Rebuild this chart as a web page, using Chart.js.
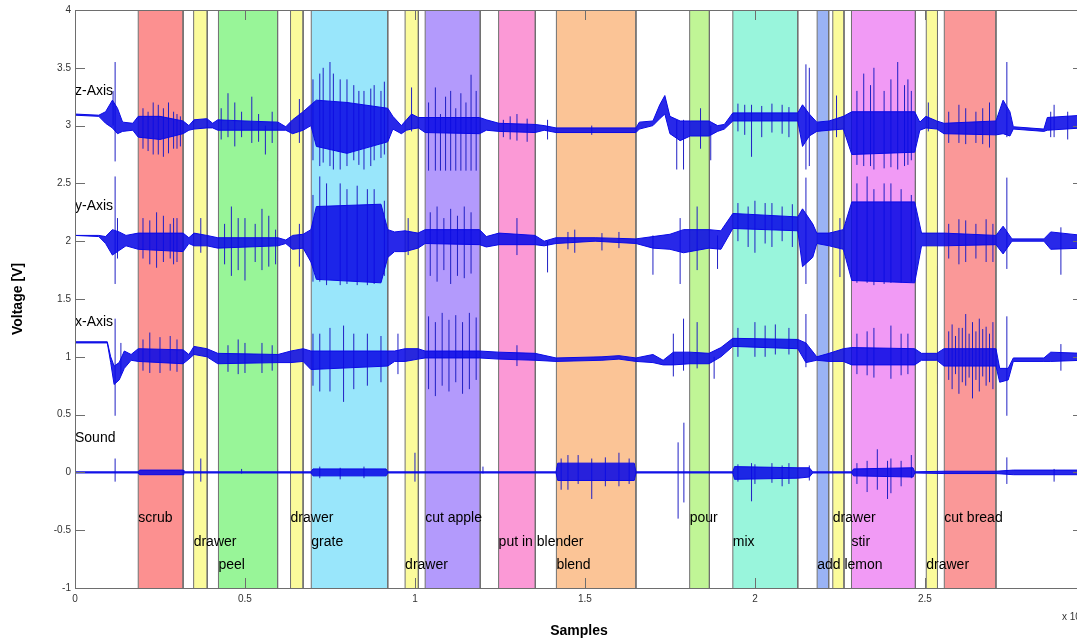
<!DOCTYPE html>
<html>
<head>
<meta charset="utf-8">
<script src="https://cdn.jsdelivr.net/npm/chart.js@4"></script>
<style>
html, body { margin: 0; padding: 0; background: #fff; overflow: hidden; }
</style>
</head>
<body>
<canvas id="chart" width="1085" height="642"></canvas>
<script>
// activity segments (x in samples x 10^5)
const bandStart = [0.186, 0.349, 0.422, 0.634, 0.695, 0.971, 1.030, 1.246, 1.416, 1.808, 1.935, 2.183, 2.229, 2.284, 2.504, 2.557];
const bandEnd   = [0.318, 0.389, 0.596, 0.671, 0.920, 1.010, 1.192, 1.354, 1.650, 1.866, 2.126, 2.217, 2.262, 2.472, 2.537, 2.709];
const bandColors = ['#fc9090', '#fbfb9b', '#98f598', '#fbfb9b', '#99e6fb', '#fbfb9b', '#b39afc', '#fb99d6',
                    '#fbc496', '#c0f596', '#99f5dc', '#9ab3f5', '#fbfb9b', '#f19af5', '#fbfb9b', '#fa9898'];
const labelText = ['scrub', 'drawer', 'peel', 'drawer', 'grate', 'drawer', 'cut apple', 'put in blender',
                   'blend', 'pour', 'mix', 'add lemon', 'drawer', 'stir', 'drawer', 'cut bread'];
const labelRow = [-0.4, -0.6, -0.8, -0.4, -0.6, -0.8, -0.4, -0.6, -0.8, -0.4, -0.6, -0.8, -0.4, -0.6, -0.8, -0.4];

const channelNames = ['z-Axis', 'y-Axis', 'x-Axis', 'Sound'];
const channelLabelY = [3.3, 2.3, 1.3, 0.3];

// z-axis: dense core envelope
const zX  = [0, 0.07, 0.09, 0.11, 0.125, 0.14, 0.17, 0.186, 0.25, 0.318,
             0.335, 0.35, 0.388, 0.405, 0.42, 0.5, 0.597, 0.62, 0.64, 0.671,
             0.694, 0.71, 0.8, 0.92, 0.935, 0.96, 0.975, 0.99, 1.01, 1.03,
             1.19, 1.21, 1.247, 1.353, 1.38, 1.415, 1.65, 1.66, 1.7, 1.72,
             1.735, 1.75, 1.78, 1.81, 1.865, 1.89, 1.91, 1.935, 2.126, 2.14,
             2.16, 2.182, 2.218, 2.26, 2.285, 2.47, 2.485, 2.503, 2.535, 2.556,
             2.709, 2.73, 2.75, 2.76, 2.85, 2.86, 2.965];
const zHi = [3.10, 3.09, 3.12, 3.22, 3.15, 3.03, 3.02, 3.08, 3.08, 3.04,
             3.00, 3.05, 3.06, 3.02, 3.05, 3.04, 3.03, 2.99, 3.05, 3.12,
             3.18, 3.22, 3.20, 3.15, 3.08, 3.00, 3.05, 3.10, 3.07, 3.07,
             3.07, 3.05, 3.02, 3.01, 3.00, 2.98, 2.98, 3.03, 3.04, 3.18,
             3.26, 3.08, 3.04, 3.04, 3.04, 3.00, 3.01, 3.11, 3.11, 3.18,
             3.10, 3.03, 3.04, 3.08, 3.12, 3.12, 3.03, 3.08, 3.04, 3.02,
             3.04, 3.22, 3.12, 2.99, 2.97, 3.07, 3.09];
const zLo = [3.09, 3.08, 3.02, 2.98, 2.93, 2.95, 2.96, 2.90, 2.88, 2.93,
             2.96, 2.97, 2.98, 2.98, 2.96, 2.96, 2.96, 2.96, 2.93, 2.96,
             3.00, 2.82, 2.76, 2.86, 2.97, 2.93, 2.96, 2.97, 2.98, 2.94,
             2.93, 2.96, 2.95, 2.94, 2.96, 2.94, 2.94, 2.97, 3.00, 3.06,
             3.10, 2.93, 2.87, 2.91, 2.91, 2.95, 2.97, 3.04, 3.04, 2.82,
             2.91, 2.95, 2.96, 2.97, 2.75, 2.77, 2.96, 2.98, 2.97, 2.93,
             2.92, 2.93, 2.91, 2.97, 2.95, 2.96, 2.98];
// z-axis: single spikes
const zSpikeX  = [0.112, 0.118, 0.23, 0.26, 0.30, 0.45, 0.52, 0.56, 0.66, 0.75,
                  0.78, 0.85, 0.88, 0.99, 1.04, 1.06, 1.075, 1.09, 1.105, 1.12,
                  1.135, 1.15, 1.165, 1.18, 1.3, 1.39, 1.52, 1.77, 1.79, 1.84,
                  1.87, 1.99, 2.15, 2.16, 2.24, 2.32, 2.35, 2.42, 2.45, 2.51,
                  2.6, 2.69, 2.741, 2.88,
                  0.2, 0.215, 0.245, 0.275, 0.29, 0.31, 0.43, 0.47, 0.49, 0.54,
                  0.58, 0.70, 0.72, 0.73, 0.76, 0.8, 0.82, 0.835, 0.87, 0.9,
                  0.91, 1.26, 1.28, 1.33, 1.95, 1.97, 2.02, 2.05, 2.08, 2.1,
                  2.3, 2.34, 2.38, 2.4, 2.44, 2.46, 2.57, 2.62, 2.65, 2.67,
                  2.87, 2.92, 2.95];
const zSpikeLo = [3.0, 2.69, 2.75, 2.73, 2.8, 2.9, 2.85, 2.75, 2.85, 2.65,
                  2.62, 2.62, 2.7, 2.95, 2.61, 2.61, 2.61, 2.61, 2.61, 2.61,
                  2.61, 2.61, 2.61, 2.61, 2.87, 2.88, 2.92, 2.62, 2.62, 2.8,
                  2.7, 2.73, 2.62, 2.65, 2.9, 2.65, 2.62, 2.62, 2.66, 2.95,
                  2.85, 2.81, 2.9, 2.9,
                  2.8, 2.78, 2.75, 2.76, 2.8, 2.82, 2.88, 2.82, 2.9, 2.86,
                  2.85, 2.7, 2.65, 2.68, 2.62, 2.65, 2.7, 2.66, 2.65, 2.72,
                  2.75, 2.9, 2.88, 2.86, 2.95, 2.92, 2.9, 2.94, 2.93, 2.9,
                  2.66, 2.65, 2.63, 2.64, 2.65, 2.7, 2.85, 2.84, 2.85, 2.84,
                  2.9, 2.88, 2.92];
const zSpikeHi = [3.3, 3.55, 3.2, 3.15, 3.1, 3.28, 3.25, 3.0, 3.23, 3.55,
                  3.4, 3.3, 3.35, 3.33, 3.2, 3.33, 3.1, 3.25, 3.3, 3.15,
                  3.28, 3.2, 3.44, 3.3, 3.1, 3.05, 3.0, 3.05, 3.05, 3.15,
                  3.0, 3.18, 3.53, 3.5, 3.26, 3.45, 3.5, 3.55, 3.4, 3.2,
                  3.18, 3.2, 3.55, 3.18,
                  3.15, 3.12, 3.18, 3.2, 3.12, 3.08, 3.15, 3.2, 3.12, 3.1,
                  3.12, 3.4, 3.45, 3.5, 3.45, 3.4, 3.35, 3.3, 3.32, 3.3,
                  3.38, 3.05, 3.08, 3.06, 3.19, 3.18, 3.17, 3.19, 3.18, 3.16,
                  3.3, 3.35, 3.3, 3.4, 3.35, 3.3, 3.12, 3.15, 3.12, 3.15,
                  3.12, 3.12, 3.15];

// y-axis
const yX  = [0, 0.07, 0.09, 0.11, 0.13, 0.15, 0.186, 0.318, 0.335, 0.35,
             0.388, 0.42, 0.597, 0.62, 0.64, 0.671, 0.694, 0.71, 0.9, 0.92,
             0.94, 0.971, 1.009, 1.03, 1.19, 1.21, 1.247, 1.353, 1.38, 1.415,
             1.53, 1.65, 1.7, 1.75, 1.79, 1.865, 1.9, 1.935, 2.126, 2.14,
             2.17, 2.182, 2.218, 2.26, 2.285, 2.47, 2.49, 2.556, 2.709, 2.73,
             2.756, 2.85, 2.87, 2.965];
const yHi = [2.05, 2.05, 2.04, 2.10, 2.08, 2.05, 2.07, 2.07, 2.03, 2.07,
             2.05, 2.03, 2.03, 2.01, 2.05, 2.06, 2.10, 2.30, 2.32, 2.10,
             2.08, 2.09, 2.07, 2.10, 2.10, 2.04, 2.07, 2.05, 2.00, 2.03,
             2.03, 2.02, 2.04, 2.06, 2.10, 2.10, 2.09, 2.24, 2.21, 2.28,
             2.15, 2.07, 2.07, 2.10, 2.34, 2.34, 2.07, 2.07, 2.05, 2.13,
             2.02, 2.02, 2.08, 2.05];
const yLo = [2.05, 2.04, 1.98, 1.88, 1.92, 1.96, 1.93, 1.91, 1.98, 1.96,
             1.96, 1.94, 1.96, 1.98, 1.93, 1.94, 1.82, 1.67, 1.64, 1.86,
             1.91, 1.91, 1.94, 1.98, 1.97, 1.95, 1.97, 1.97, 1.96, 1.98,
             2.00, 1.98, 1.94, 1.93, 1.90, 1.94, 1.93, 2.11, 2.09, 1.78,
             1.86, 1.98, 1.96, 1.93, 1.66, 1.64, 1.96, 1.96, 1.97, 1.89,
             2.00, 2.00, 1.93, 1.94];
const ySpikeX  = [0.118, 0.125, 0.24, 0.29, 0.37, 0.46, 0.5, 0.55, 0.66, 0.72,
                  0.78, 0.86, 0.98, 1.045, 1.065, 1.085, 1.105, 1.125, 1.145, 1.165,
                  1.3, 1.39, 1.47, 1.7, 1.78, 1.83, 1.89, 2.0, 2.05, 2.15,
                  2.25, 2.33, 2.4, 2.6, 2.68, 2.741, 2.9,
                  0.2, 0.22, 0.26, 0.28, 0.3, 0.44, 0.48, 0.53, 0.57, 0.59,
                  0.7, 0.74, 0.8, 0.83, 0.88, 0.91, 1.95, 1.98, 2.03, 2.08,
                  2.11, 2.3, 2.35, 2.38, 2.43, 2.46, 2.57, 2.62, 2.65, 2.7,
                  1.45, 1.55, 1.6];
const ySpikeLo = [1.63, 1.85, 1.77, 1.8, 1.9, 1.7, 1.66, 1.75, 1.78, 1.65,
                  1.62, 1.62, 1.88, 1.7, 1.65, 1.75, 1.63, 1.7, 1.68, 1.72,
                  1.88, 1.73, 1.9, 1.71, 1.63, 1.75, 1.76, 1.9, 1.95, 1.63,
                  1.69, 1.64, 1.64, 1.8, 1.82, 1.76, 1.71,
                  1.85, 1.8, 1.82, 1.85, 1.82, 1.8, 1.75, 1.82, 1.78, 1.8,
                  1.65, 1.62, 1.63, 1.62, 1.63, 1.7, 2.0, 1.95, 1.98, 2.0,
                  1.95, 1.64, 1.62, 1.63, 1.64, 1.65, 1.85, 1.82, 1.85, 1.82,
                  1.93, 1.92, 1.94];
const ySpikeHi = [2.56, 2.2, 2.25, 2.2, 2.2, 2.3, 2.2, 2.28, 2.15, 2.56,
                  2.5, 2.45, 2.2, 2.25, 2.3, 2.2, 2.28, 2.22, 2.3, 2.25,
                  2.2, 2.0, 2.1, 2.05, 2.2, 2.3, 2.05, 2.35, 2.33, 2.55,
                  2.2, 2.56, 2.5, 2.19, 2.19, 2.55, 2.12,
                  2.2, 2.18, 2.22, 2.15, 2.2, 2.15, 2.2, 2.15, 2.22, 2.1,
                  2.4, 2.5, 2.45, 2.48, 2.45, 2.35, 2.33, 2.3, 2.33, 2.3,
                  2.32, 2.5, 2.45, 2.5, 2.45, 2.4, 2.15, 2.18, 2.15, 2.15,
                  2.08, 2.07, 2.08];

// x-axis
const xX  = [0, 0.095, 0.105, 0.115, 0.13, 0.145, 0.165, 0.186, 0.318, 0.335,
             0.35, 0.388, 0.42, 0.597, 0.635, 0.671, 0.694, 0.92, 0.94, 0.971,
             1.009, 1.03, 1.19, 1.247, 1.353, 1.415, 1.55, 1.6, 1.65, 1.7,
             1.73, 1.76, 1.809, 1.865, 1.9, 1.935, 2.126, 2.15, 2.182, 2.218,
             2.26, 2.285, 2.47, 2.49, 2.535, 2.556, 2.709, 2.72, 2.745, 2.76,
             2.85, 2.87, 2.965];
const xHi = [1.13, 1.13, 1.00, 0.92, 0.95, 1.05, 1.02, 1.07, 1.06, 1.02,
             1.09, 1.07, 1.03, 1.02, 1.05, 1.07, 1.05, 1.05, 1.05, 1.07,
             1.07, 1.05, 1.05, 1.04, 1.03, 0.99, 1.00, 1.01, 0.99, 1.02,
             0.97, 1.04, 1.04, 1.03, 1.08, 1.16, 1.15, 1.12, 1.00, 1.03,
             1.07, 1.08, 1.07, 1.03, 1.03, 1.07, 1.07, 0.90, 0.90, 0.99,
             0.99, 1.04, 1.03];
const xLo = [1.12, 1.12, 0.95, 0.76, 0.80, 0.90, 0.97, 0.96, 0.94, 0.98,
             1.02, 1.00, 0.94, 0.95, 0.95, 0.96, 0.89, 0.92, 0.96, 0.96,
             0.98, 0.99, 0.99, 0.98, 0.97, 0.96, 0.97, 0.98, 0.96, 0.95,
             0.93, 0.93, 0.94, 0.94, 1.00, 1.09, 1.07, 0.95, 0.97, 0.96,
             0.96, 0.93, 0.93, 0.97, 0.97, 0.92, 0.92, 0.78, 0.80, 0.96,
             0.96, 0.96, 0.97];
const xSpikeX  = [0.118, 0.135, 0.22, 0.28, 0.48, 0.55, 0.72, 0.79, 0.86, 0.95,
                  1.04, 1.06, 1.08, 1.1, 1.12, 1.14, 1.16, 1.18, 1.3, 1.76,
                  1.79, 1.83, 1.88, 2.0, 2.06, 2.15, 2.3, 2.4, 2.45, 2.58,
                  2.6, 2.62, 2.64, 2.66, 2.68, 2.7, 2.741, 2.9,
                  0.2, 0.25, 0.3, 0.45, 0.5, 0.58, 0.7, 0.75, 0.82, 0.9,
                  1.95, 2.03, 2.1, 2.33, 2.35, 2.43, 2.57, 2.59, 2.61, 2.63,
                  2.65, 2.67, 2.69];
const xSpikeLo = [0.49, 0.85, 0.86, 0.88, 0.85, 0.86, 0.7, 0.61, 0.75, 0.85,
                  0.72, 0.66, 0.75, 0.7, 0.78, 0.68, 0.72, 0.8, 0.92, 0.83,
                  0.88, 0.9, 0.81, 1.0, 1.02, 0.91, 0.85, 0.81, 0.85, 0.72,
                  0.68, 0.75, 0.64, 0.7, 0.75, 0.72, 0.49, 0.88,
                  0.88, 0.86, 0.87, 0.87, 0.86, 0.88, 0.75, 0.7, 0.72, 0.78,
                  1.0, 1.0, 1.02, 0.84, 0.82, 0.84, 0.8, 0.85, 0.78, 0.82,
                  0.8, 0.83, 0.78];
const xSpikeHi = [1.33, 1.12, 1.21, 1.18, 1.15, 1.12, 1.2, 1.27, 1.2, 1.2,
                  1.35, 1.3, 1.38, 1.32, 1.36, 1.3, 1.38, 1.34, 1.1, 1.2,
                  1.33, 1.3, 1.0, 1.3, 1.28, 1.37, 1.2, 1.27, 1.2, 1.28,
                  1.25, 1.37, 1.3, 1.33, 1.26, 1.3, 1.35, 1.11,
                  1.15, 1.17, 1.15, 1.1, 1.12, 1.1, 1.2, 1.25, 1.2, 1.18,
                  1.25, 1.27, 1.25, 1.22, 1.25, 1.2, 1.22, 1.18, 1.25, 1.2,
                  1.22, 1.24, 1.2];

// sound
const sX  = [0, 0.186, 0.19, 0.318, 0.32, 0.694, 0.7, 0.915, 0.92, 1.415,
             1.42, 1.645, 1.65, 1.935, 1.94, 2.126, 2.16, 2.17, 2.285, 2.29,
             2.465, 2.47, 2.556, 2.709, 2.76, 2.965];
const sHi = [0.005, 0.005, 0.02, 0.02, 0.005, 0.005, 0.03, 0.03, 0.005, 0.005,
             0.08, 0.08, 0.005, 0.005, 0.05, 0.04, 0.04, 0.005, 0.005, 0.03,
             0.04, 0.005, 0.01, 0.01, 0.02, 0.02];
const sLo = [-0.005, -0.005, -0.02, -0.02, -0.005, -0.005, -0.03, -0.03, -0.005, -0.005,
             -0.07, -0.07, -0.005, -0.005, -0.06, -0.05, -0.04, -0.005, -0.005, -0.03,
             -0.04, -0.005, -0.01, -0.01, -0.02, -0.02];
const sSpikeX  = [0.118, 0.37, 0.49, 1.0, 1.2, 1.45, 1.52, 1.6, 1.774, 1.791, 1.99, 2.1, 2.16, 2.36, 2.39, 2.46, 2.741, 2.88,
                  1.95, 2.0, 2.05, 2.08, 2.3, 2.33, 2.4, 2.43, 0.72, 0.78, 0.85, 1.43, 1.48, 1.56, 1.63];
const sSpikeLo = [-0.08, -0.08, -0.01, -0.08, -0.01, -0.15, -0.23, -0.12, -0.40, -0.26, -0.25, -0.1, -0.07, -0.15, -0.23, -0.05, -0.1, -0.08,
                  -0.08, -0.1, -0.09, -0.12, -0.1, -0.17, -0.18, -0.12, -0.05, -0.06, -0.05, -0.15, -0.1, -0.12, -0.1];
const sSpikeHi = [0.12, 0.12, 0.03, 0.17, 0.05, 0.15, 0.12, 0.17, 0.26, 0.43, 0.08, 0.08, 0.06, 0.2, 0.1, 0.15, 0.13, 0.03,
                  0.07, 0.07, 0.08, 0.06, 0.08, 0.1, 0.12, 0.1, 0.05, 0.04, 0.05, 0.12, 0.15, 0.13, 0.12];

const coreBlue = 'rgba(10, 10, 230, 0.88)';
const lineBlue = '#0a0ae6';
const spikeBlue = '#2020c4';

Chart.defaults.font.family = '"Liberation Sans", Arial, sans-serif';

function points(xs, ys) {
    return xs.map((x, i) => ({ x: x, y: ys[i] }));
}

// each spike is a vertical segment, separated by gaps
function spikes(xs, lo, hi) {
    const pts = [];
    xs.forEach((x, i) => {
        pts.push({ x: x, y: lo[i] }, { x: x, y: hi[i] }, { x: x, y: NaN });
    });
    return pts;
}

const datasets = [];

bandStart.forEach((s, i) => {
    datasets.push({
        data: [{ x: s, y: -1 }, { x: s, y: 4 }, { x: bandEnd[i], y: 4 }, { x: bandEnd[i], y: -1 }],
        borderColor: '#707070',
        borderWidth: 1,
        backgroundColor: bandColors[i],
        fill: 'start',
        pointRadius: 0,
        order: 20
    });
});

const channels = [
    { x: zX, hi: zHi, lo: zLo, sx: zSpikeX, slo: zSpikeLo, shi: zSpikeHi },
    { x: yX, hi: yHi, lo: yLo, sx: ySpikeX, slo: ySpikeLo, shi: ySpikeHi },
    { x: xX, hi: xHi, lo: xLo, sx: xSpikeX, slo: xSpikeLo, shi: xSpikeHi },
    { x: sX, hi: sHi, lo: sLo, sx: sSpikeX, slo: sSpikeLo, shi: sSpikeHi }
];

channels.forEach(ch => {
    const hiIndex = datasets.length;
    datasets.push({
        data: points(ch.x, ch.hi),
        borderColor: lineBlue, borderWidth: 1, pointRadius: 0, fill: false, order: 5
    });
    datasets.push({
        data: points(ch.x, ch.lo),
        borderColor: lineBlue, borderWidth: 1, pointRadius: 0,
        fill: hiIndex, backgroundColor: coreBlue, order: 5
    });
    datasets.push({
        data: spikes(ch.sx, ch.slo, ch.shi),
        borderColor: spikeBlue, borderWidth: 1, pointRadius: 0, fill: false, spanGaps: false, order: 6
    });
});

const overlay = {
    id: 'overlay',
    afterDatasetsDraw(chart) {
        const { ctx, scales: { x, y } } = chart;
        ctx.save();
        ctx.font = '14px "Liberation Sans", Arial, sans-serif';
        ctx.fillStyle = '#000';
        ctx.textBaseline = 'middle';
        ctx.textAlign = 'left';
        labelText.forEach((t, i) => {
            ctx.fillText(t, x.getPixelForValue(bandStart[i]), y.getPixelForValue(labelRow[i]));
        });
        channelNames.forEach((t, i) => {
            ctx.fillText(t, x.getPixelForValue(0), y.getPixelForValue(channelLabelY[i]));
        });
        ctx.restore();
    },
    afterDraw(chart) {
        const { ctx, chartArea: a, scales: { x, y } } = chart;
        ctx.save();
        ctx.strokeStyle = '#6e6e6e';
        ctx.lineWidth = 1;
        ctx.beginPath();
        x.ticks.forEach(t => {
            const px = Math.round(x.getPixelForValue(t.value)) + 0.5;
            ctx.moveTo(px, a.bottom); ctx.lineTo(px, a.bottom - 10);
            ctx.moveTo(px, a.top); ctx.lineTo(px, a.top + 10);
        });
        y.ticks.forEach(t => {
            const py = Math.round(y.getPixelForValue(t.value)) + 0.5;
            ctx.moveTo(a.left, py); ctx.lineTo(a.left + 10, py);
            ctx.moveTo(a.right, py); ctx.lineTo(a.right - 10, py);
        });
        ctx.stroke();
        ctx.strokeRect(Math.round(a.left) + 0.5, Math.round(a.top) + 0.5,
                       Math.round(a.right - a.left), Math.round(a.bottom - a.top));
        // exponent of the sample axis
        ctx.fillStyle = '#333';
        ctx.font = '10px "Liberation Sans", Arial, sans-serif';
        ctx.textBaseline = 'middle';
        ctx.fillText('x 10', a.right - 21, a.bottom + 29);
        ctx.font = '8px "Liberation Sans", Arial, sans-serif';
        ctx.fillText('5', a.right - 2, a.bottom + 24);
        ctx.restore();
    }
};

const plainNumber = value => String(Math.round(value * 10) / 10);

new Chart(document.getElementById('chart'), {
    type: 'line',
    data: { datasets: datasets },
    options: {
        responsive: false,
        animation: false,
        devicePixelRatio: 1,
        layout: { padding: { left: 0, right: 2, top: 4, bottom: 0 } },
        plugins: { legend: { display: false }, tooltip: { enabled: false } },
        elements: { line: { tension: 0 } },
        scales: {
            x: {
                type: 'linear',
                min: 0,
                max: 2.965,
                grid: { display: false, drawTicks: false },
                border: { display: false },
                ticks: { stepSize: 0.5, includeBounds: false, font: { size: 10 }, color: '#333', padding: 5, maxRotation: 0, callback: plainNumber },
                title: { display: true, text: 'Samples', font: { size: 14, weight: 'bold' }, color: '#000', padding: { top: 0, bottom: 2 } },
                afterFit: s => { s.height = 54; }
            },
            y: {
                type: 'linear',
                min: -1,
                max: 4,
                grid: { display: false, drawTicks: false },
                border: { display: false },
                ticks: { stepSize: 0.5, font: { size: 10 }, color: '#333', padding: 4, callback: plainNumber },
                title: { display: true, text: 'Voltage [V]', font: { size: 14, weight: 'bold' }, color: '#000', padding: { top: 10, bottom: 0 } },
                afterFit: s => { s.width = 75; }
            }
        }
    },
    plugins: [overlay]
});
</script>
</body>
</html>
